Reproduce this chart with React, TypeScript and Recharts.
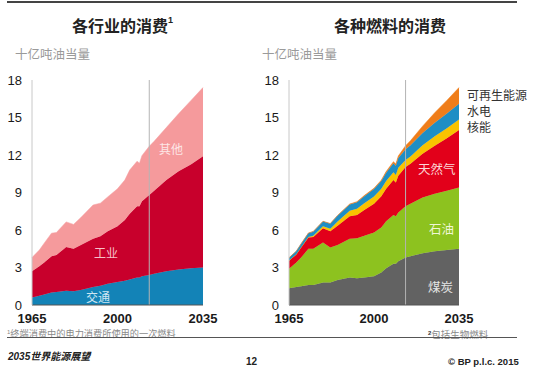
import React from 'react';
import { AreaChart, Area, XAxis, YAxis, ReferenceLine } from 'recharts';

const years = [1965, 1968, 1970, 1973, 1975, 1979, 1982, 1985, 1990, 1993, 1996, 2000, 2003, 2005, 2008, 2009, 2010, 2013, 2015, 2020, 2025, 2030, 2035];

// Left chart: by sector (Gtoe)
const transport = [0.6, 0.75, 0.85, 1.0, 1.05, 1.15, 1.1, 1.2, 1.45, 1.55, 1.7, 1.85, 1.95, 2.05, 2.2, 2.2, 2.3, 2.4, 2.5, 2.7, 2.85, 2.95, 3.0];
const industry = [2.1, 2.35, 2.55, 2.9, 2.95, 3.5, 3.4, 3.6, 3.85, 3.95, 4.2, 4.45, 4.85, 5.25, 5.7, 5.7, 6.0, 6.4, 6.65, 7.3, 7.85, 8.3, 8.9];
const other = [1.1, 1.3, 1.55, 1.85, 1.8, 2.0, 1.95, 2.2, 2.7, 2.65, 2.75, 3.0, 3.2, 3.5, 3.6, 3.45, 3.65, 3.9, 3.95, 4.2, 4.6, 5.1, 5.5];

// Right chart: by fuel (Gtoe)
const coal = [1.35, 1.45, 1.5, 1.6, 1.6, 1.8, 1.8, 2.0, 2.2, 2.15, 2.2, 2.3, 2.6, 2.95, 3.3, 3.3, 3.5, 3.8, 3.9, 4.15, 4.3, 4.4, 4.5];
const oil = [1.55, 1.95, 2.3, 2.9, 2.9, 3.2, 2.8, 2.8, 3.1, 3.2, 3.35, 3.5, 3.6, 3.75, 3.9, 3.8, 3.9, 4.1, 4.2, 4.45, 4.6, 4.75, 4.9];
const gas = [0.65, 0.65, 0.8, 0.9, 0.95, 1.15, 1.3, 1.55, 1.8, 1.85, 2.05, 2.3, 2.5, 2.6, 2.8, 2.7, 2.95, 3.15, 3.2, 3.5, 3.85, 4.2, 4.6];
const nuclear = [0.01, 0.01, 0.02, 0.05, 0.09, 0.15, 0.2, 0.34, 0.45, 0.5, 0.55, 0.58, 0.6, 0.63, 0.62, 0.61, 0.63, 0.56, 0.58, 0.68, 0.75, 0.8, 0.85];
const hydro = [0.21, 0.24, 0.27, 0.3, 0.33, 0.38, 0.4, 0.45, 0.49, 0.52, 0.56, 0.6, 0.62, 0.66, 0.72, 0.73, 0.78, 0.86, 0.9, 0.98, 1.08, 1.17, 1.25];
const renewables = [0.01, 0.01, 0.01, 0.01, 0.02, 0.02, 0.02, 0.03, 0.04, 0.05, 0.05, 0.06, 0.07, 0.09, 0.13, 0.14, 0.16, 0.28, 0.36, 0.55, 0.8, 1.05, 1.3];

const xTicks = [1965, 2000, 2035];
const yTicks = [0, 3, 6, 9, 12, 15, 18];
const forecastStart = 2013;

const sectorData = years.map((year, i) => ({ year, transport: transport[i], industry: industry[i], other: other[i] }));
const fuelData = years.map((year, i) => ({
  year, coal: coal[i], oil: oil[i], gas: gas[i], nuclear: nuclear[i], hydro: hydro[i], renewables: renewables[i],
}));

const NUM_FONT = '"Liberation Sans", Arial, sans-serif';
const CJK_FONT = '"Noto Sans CJK SC", "Noto Sans", sans-serif';

const abs = (left: number, top: number, extra: React.CSSProperties = {}): React.CSSProperties => ({
  position: 'absolute', left, top, whiteSpace: 'nowrap', lineHeight: 1, ...extra,
});

function Axes() {
  return null;
}

function commonAxes() {
  return [
    <XAxis
      key="x"
      type="number"
      dataKey="year"
      domain={[1965, 2035]}
      ticks={xTicks}
      tickLine={false}
      axisLine={{ stroke: '#555', strokeWidth: 1 }}
      tick={{ fill: '#1a1a1a', fontSize: 13, fontWeight: 'bold', fontFamily: NUM_FONT }}
      tickMargin={3}
      height={25}
      interval={0}
    />,
    <YAxis
      key="y"
      type="number"
      domain={[0, 18]}
      ticks={yTicks}
      tickLine={false}
      axisLine={{ stroke: '#c8c8c8', strokeWidth: 1 }}
      tick={{ fill: '#1a1a1a', fontSize: 13, fontFamily: NUM_FONT }}
      tickMargin={4}
      width={32}
      interval={0}
    />,
  ];
}

export default function App() {
  const margin = { top: 10, right: 27, bottom: 0, left: 0 };
  return (
    <div style={{ position: 'fixed', left: 0, top: 0, width: 533, height: 372, background: '#fff', overflow: 'hidden' }}>
      {/* top rule */}
      <div style={{ position: 'absolute', left: 7, top: 1, width: 510, height: 1.5, background: '#444' }} />

      {/* titles */}
      <div style={abs(72, 17, { fontFamily: CJK_FONT, fontSize: 16, fontWeight: 'bold', color: '#222' })}>
        各行业的消费<span style={{ fontFamily: NUM_FONT, fontSize: 9, verticalAlign: 'top', position: 'relative', top: -1 }}>1</span>
      </div>
      <div style={abs(334, 17, { fontFamily: CJK_FONT, fontSize: 16, fontWeight: 'bold', color: '#222' })}>各种燃料的消费</div>
      <div style={abs(15, 48, { fontFamily: CJK_FONT, fontSize: 12.5, color: '#9a9a9a' })}>十亿吨油当量</div>
      <div style={abs(262, 48, { fontFamily: CJK_FONT, fontSize: 12.5, color: '#9a9a9a' })}>十亿吨油当量</div>

      {/* left chart */}
      <div style={{ position: 'absolute', left: 0, top: 70 }}>
        <AreaChart width={230} height={260} data={sectorData} margin={margin}>
          {commonAxes()}
          <Area type="linear" dataKey="transport" stackId="a" fill="#1383b7" stroke="#1383b7" strokeWidth={0.5} fillOpacity={1} isAnimationActive={false} />
          <Area type="linear" dataKey="industry" stackId="a" fill="#c8002c" stroke="#c8002c" strokeWidth={0.5} fillOpacity={1} isAnimationActive={false} />
          <Area type="linear" dataKey="other" stackId="a" fill="#f59a9c" stroke="#f59a9c" strokeWidth={0.5} fillOpacity={1} isAnimationActive={false} />
          <ReferenceLine x={forecastStart} stroke="#b4b4b4" strokeWidth={1} />
        </AreaChart>
      </div>

      {/* right chart */}
      <div style={{ position: 'absolute', left: 257, top: 70 }}>
        <AreaChart width={230} height={260} data={fuelData} margin={{ ...margin, right: 28 }}>
          {commonAxes()}
          <Area type="linear" dataKey="coal" stackId="b" fill="#626262" stroke="#626262" strokeWidth={0.5} fillOpacity={1} isAnimationActive={false} />
          <Area type="linear" dataKey="oil" stackId="b" fill="#8dc21f" stroke="#8dc21f" strokeWidth={0.5} fillOpacity={1} isAnimationActive={false} />
          <Area type="linear" dataKey="gas" stackId="b" fill="#e2001a" stroke="#e2001a" strokeWidth={0.5} fillOpacity={1} isAnimationActive={false} />
          <Area type="linear" dataKey="nuclear" stackId="b" fill="#f9c300" stroke="#f9c300" strokeWidth={0.5} fillOpacity={1} isAnimationActive={false} />
          <Area type="linear" dataKey="hydro" stackId="b" fill="#1e8ec5" stroke="#1e8ec5" strokeWidth={0.5} fillOpacity={1} isAnimationActive={false} />
          <Area type="linear" dataKey="renewables" stackId="b" fill="#ef7d1a" stroke="#ef7d1a" strokeWidth={0.5} fillOpacity={1} isAnimationActive={false} />
          <ReferenceLine x={forecastStart} stroke="#b4b4b4" strokeWidth={1} />
        </AreaChart>
      </div>

      {/* in-area labels, left */}
      <div style={abs(159, 143, { fontFamily: CJK_FONT, fontSize: 12, color: '#fde6e6' })}>其他</div>
      <div style={abs(94, 247, { fontFamily: CJK_FONT, fontSize: 12, color: '#f7c0c8' })}>工业</div>
      <div style={abs(86, 291, { fontFamily: CJK_FONT, fontSize: 12, color: '#cfe6f2' })}>交通</div>

      {/* in-area labels, right */}
      <div style={abs(418, 163, { fontFamily: CJK_FONT, fontSize: 12.5, color: '#fcd6d6' })}>天然气</div>
      <div style={abs(429, 223, { fontFamily: CJK_FONT, fontSize: 12.5, color: '#f0f6d6' })}>石油</div>
      <div style={abs(428, 281, { fontFamily: CJK_FONT, fontSize: 12.5, color: '#e6e6e6' })}>煤炭</div>

      {/* legend labels on right */}
      <div style={abs(467, 89, { fontFamily: CJK_FONT, fontSize: 12, color: '#333' })}>可再生能源</div>
      <div style={abs(467, 105, { fontFamily: CJK_FONT, fontSize: 12, color: '#333' })}>水电</div>
      <div style={abs(467, 121, { fontFamily: CJK_FONT, fontSize: 12, color: '#333' })}>核能</div>

      {/* footnotes */}
      <div style={abs(7, 329, { fontFamily: CJK_FONT, fontSize: 9.2, color: '#8a8a8a' })}>
        <span style={{ fontFamily: NUM_FONT, fontSize: 6, verticalAlign: 'top' }}>1</span>终端消费中的电力消费所使用的一次燃料
      </div>
      <div style={abs(428, 330, { fontFamily: CJK_FONT, fontSize: 9.5, color: '#8a8a8a' })}>
        <span style={{ fontFamily: NUM_FONT, fontSize: 6, verticalAlign: 'top', fontWeight: 'bold', color: '#333' }}>2</span>包括生物燃料
      </div>
      <div style={{ position: 'absolute', left: 7, top: 337, width: 510, height: 1, background: '#555' }} />

      {/* footer */}
      <div style={abs(8, 351, { fontFamily: CJK_FONT, fontSize: 10, fontWeight: 'bold', fontStyle: 'italic', color: '#222' })}>
        <span style={{ fontFamily: NUM_FONT }}>2035</span>世界能源展望
      </div>
      <div style={abs(246, 357, { fontFamily: NUM_FONT, fontSize: 10, fontWeight: 'bold', color: '#222' })}>12</div>
      <div style={abs(448, 357, { fontFamily: NUM_FONT, fontSize: 9.5, fontWeight: 'bold', color: '#222' })}>© BP p.l.c. 2015</div>
      <Axes />
    </div>
  );
}
